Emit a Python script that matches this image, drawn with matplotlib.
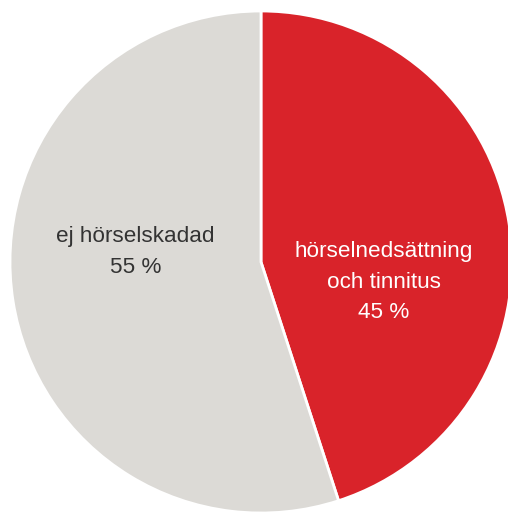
import matplotlib.pyplot as plt

labels = ['hörselnedsättning\noch tinnitus', 'ej hörselskadad']
shares = [45, 55]
colors = ['#d9232a', '#dcdad6']
text_colors = ['white', '#333333']

plt.rcParams['font.family'] = ['Liberation Sans', 'DejaVu Sans']

fig = plt.figure(figsize=(5.08, 5.13), dpi=100)
ax = fig.add_axes([10 / 508, 0, 502 / 508, 502 / 513])
ax.pie(shares, colors=colors, startangle=90, counterclock=False,
       wedgeprops=dict(edgecolor='white', linewidth=2))
ax.set_xlim(-1, 1)
ax.set_ylim(-1, 1)
ax.set_aspect('equal')
ax.axis('off')

# label positions
pos = [(0.49, -0.08), (-0.5, 0.04)]
for lab, val, (x, y), c in zip(labels, shares, pos, text_colors):
    ax.text(x, y, f'{lab}\n{val} %', ha='center', va='center', color=c,
            fontsize=16.2, linespacing=1.6)

fig.savefig('out.png', dpi=100)
